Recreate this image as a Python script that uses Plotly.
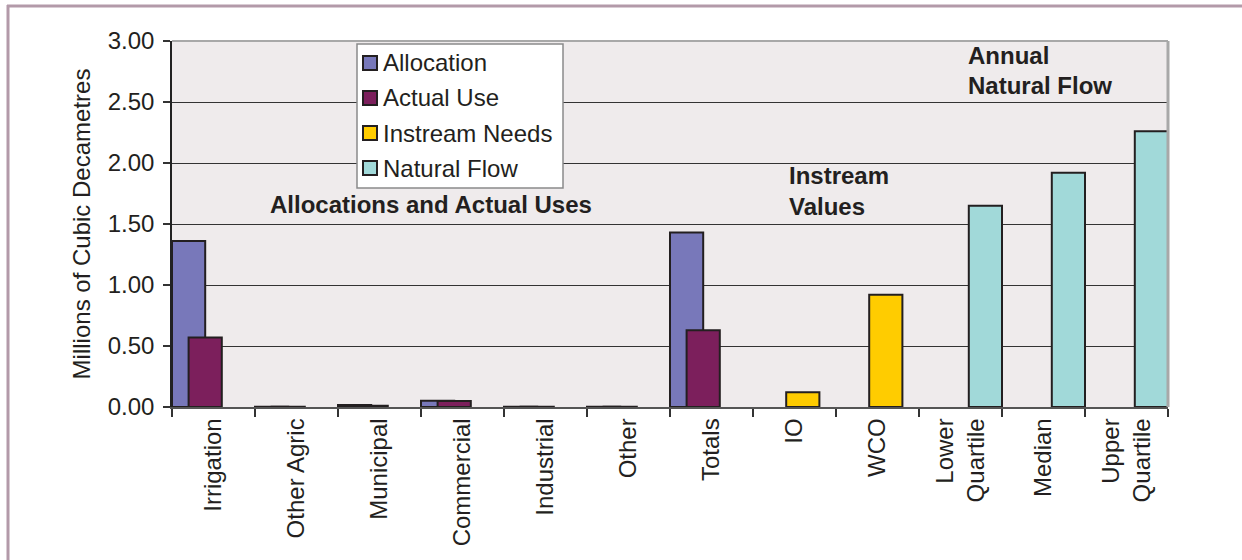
import plotly.graph_objects as go

categories = ["Irrigation", "Other Agric", "Municipal", "Commercial", "Industrial", "Other",
              "Totals", "IO", "WCO", "Lower<br>Quartile", "Median", "Upper<br>Quartile"]
allocation = [1.36, 0.003, 0.016, 0.052, 0.003, 0.003, 1.43, None, None, None, None, None]
actual_use = [0.57, 0.003, 0.010, 0.050, 0.003, 0.003, 0.63, None, None, None, None, None]
instream_needs = [None, None, None, None, None, None, None, 0.12, 0.92, None, None, None]
natural_flow = [None, None, None, None, None, None, None, None, None, 1.65, 1.92, 2.26]
y_ticks = [0, 0.5, 1.0, 1.5, 2.0, 2.5, 3.0]

series = [
    ("Allocation", allocation, "#7878ba", -0.5),
    ("Actual Use", actual_use, "#7c1f5c", -0.3),
    ("Instream Needs", instream_needs, "#ffcc00", -0.1),
    ("Natural Flow", natural_flow, "#a1d9d9", 0.1),
]

W, H = 1242, 560
L, R, T, B = 172, 1168, 41, 407
TXT = "#231f20"
FONT = "Liberation Sans, Arial, sans-serif"


def px(x):
    return (x - L) / (R - L)


def py(y):
    return (B - y) / (B - T)


fig = go.Figure()
for name, vals, color, off in series:
    fig.add_trace(go.Bar(
        x=categories, y=vals, name=name, offset=off, width=0.4,
        marker=dict(color=color, line=dict(color=TXT, width=2)),
        showlegend=False,
    ))

shapes = []
annotations = []

# outer frame (top and left)
shapes.append(dict(type="line", xref="paper", yref="paper", x0=px(7), x1=px(1242), y0=py(6), y1=py(6),
                   line=dict(color="#b39aa9", width=3)))
shapes.append(dict(type="line", xref="paper", yref="paper", x0=px(8), x1=px(8), y0=py(5), y1=py(560),
                   line=dict(color="#b39aa9", width=3)))
# plot area grey top/right border
shapes.append(dict(type="line", xref="paper", yref="paper", x0=0, x1=1, y0=1, y1=1,
                   line=dict(color="#a8a8a8", width=2)))
shapes.append(dict(type="line", xref="paper", yref="paper", x0=1, x1=1, y0=0, y1=1,
                   line=dict(color="#a8a8a8", width=3)))

# manual legend
lx0, lx1, ly0, ly1 = 357, 563, 44, 188
shapes.append(dict(type="rect", xref="paper", yref="paper", x0=px(lx0), x1=px(lx1), y0=py(ly1), y1=py(ly0),
                   fillcolor="white", line=dict(color="#8a8a8a", width=1.5)))
for i, (name, vals, color, off) in enumerate(series):
    cy = 63 + 35 * i
    shapes.append(dict(type="rect", xref="paper", yref="paper", x0=px(363), x1=px(377),
                       y0=py(cy + 7), y1=py(cy - 7), fillcolor=color, line=dict(color=TXT, width=2)))
    annotations.append(dict(xref="paper", yref="paper", x=px(381), y=py(cy), text=name, showarrow=False,
                            xanchor="left", yanchor="middle", font=dict(size=24, color=TXT, family=FONT)))

bold = dict(size=24, color=TXT, family=FONT)
annotations.append(dict(xref="paper", yref="paper", x=px(431), y=py(204), text="<b>Allocations and Actual Uses</b>",
                        showarrow=False, xanchor="center", yanchor="middle", font=bold))
annotations.append(dict(xref="paper", yref="paper", x=px(787), y=py(175), text="<b>Instream</b>",
                        showarrow=False, xanchor="left", yanchor="middle", font=bold))
annotations.append(dict(xref="paper", yref="paper", x=px(787), y=py(207), text="<b>Values</b>",
                        showarrow=False, xanchor="left", yanchor="middle", font=bold))
annotations.append(dict(xref="paper", yref="paper", x=px(966), y=py(55), text="<b>Annual</b>",
                        showarrow=False, xanchor="left", yanchor="middle", font=bold))
annotations.append(dict(xref="paper", yref="paper", x=px(966), y=py(85), text="<b>Natural Flow</b>",
                        showarrow=False, xanchor="left", yanchor="middle", font=bold))

fig.update_layout(
    width=W, height=H,
    margin=dict(l=L, r=W - R, t=T, b=H - B),
    paper_bgcolor="white",
    plot_bgcolor="#efebec",
    barmode="overlay",
    font=dict(family=FONT, color=TXT, size=20),
    shapes=shapes,
    annotations=annotations,
    xaxis=dict(
        type="category", tickangle=-90, tickson="boundaries",
        ticks="outside", ticklen=8, tickcolor="#333", tickwidth=1.5,
        showline=True, linecolor="#555", linewidth=1.5,
        showgrid=False, tickfont=dict(size=24, color=TXT, family=FONT),
        range=[-0.5, 11.5],
    ),
    yaxis=dict(
        range=[0, 3], tickvals=y_ticks, tickformat=".2f",
        ticks="outside", ticklen=7, tickcolor="#333", tickwidth=1.5,
        ticklabelstandoff=4,
        showline=True, linecolor="#222", linewidth=1.5,
        showgrid=True, gridcolor="#333", gridwidth=1,
        zeroline=False,
        tickfont=dict(size=24, color=TXT, family=FONT),
        title=dict(text="Millions of Cubic Decametres", font=dict(size=24, color=TXT, family=FONT), standoff=10),
    ),
)

fig.write_html("out.html")
